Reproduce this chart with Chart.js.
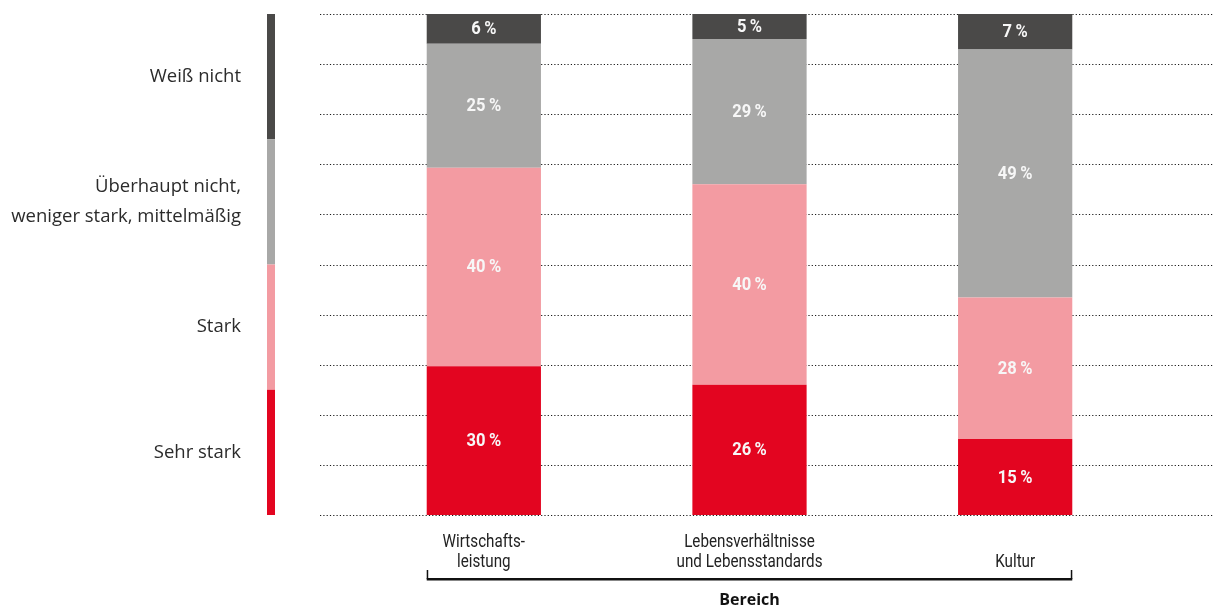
<!DOCTYPE html>
<html lang="de">
<head>
<meta charset="utf-8">
<script src="https://cdn.jsdelivr.net/npm/chart.js@4"></script>
<style>
    html, body { margin: 0; padding: 0; background: #fff; }
    #wrap { width: 1216px; height: 610px; }
</style>
</head>
<body>
<div id="wrap"><canvas id="chart" width="1216" height="610"></canvas></div>
<script>
// categories (multi-line labels) and series, bottom to top
const categories = [['Wirtschafts-', 'leistung'], ['Lebensverhältnisse', 'und Lebensstandards'], ['Kultur']]
const seriesNames = ['Sehr stark', 'Stark', ['Überhaupt nicht,', 'weniger stark, mittelmäßig'], 'Weiß nicht']
const sehrStark = [30, 26, 15]
const stark = [40, 40, 28]
const mittel = [25, 29, 49]
const weissNicht = [6, 5, 7]
const axisTitle = 'Bereich'

const series = [sehrStark, stark, mittel, weissNicht]
const colors = ['#e30520', '#f39ba2', '#a8a8a7', '#4a4948']

// 100 % stacked: every bar is scaled to its own total
const totals = categories.map((c, j) => series.reduce((s, arr) => s + arr[j], 0))

// no condensed face installed, so Roboto is squeezed horizontally
const narrow = (ctx, text, x, y, sx) => {
    ctx.save()
    ctx.translate(x, y)
    ctx.scale(sx, 1)
    ctx.fillText(text, 0, 0)
    ctx.restore()
}

const overlay = {
    id: 'overlay',
    beforeDatasetsDraw(chart) {
        const { ctx } = chart
        const y = chart.scales.y
        ctx.save()
        ctx.strokeStyle = '#1a1a1a'
        ctx.lineWidth = 1
        ctx.setLineDash([1.2, 2.1])
        for (let v = 0; v <= 100; v += 10) {
            const py = Math.round(y.getPixelForValue(v)) + 0.5
            ctx.beginPath()
            ctx.moveTo(320, py)
            ctx.lineTo(1214, py)
            ctx.stroke()
        }
        ctx.restore()
    },
    afterDatasetsDraw(chart) {
        const { ctx } = chart
        ctx.save()
        ctx.fillStyle = '#f7f7f7'
        ctx.font = 'bold 18px Roboto, sans-serif'
        ctx.textAlign = 'center'
        ctx.textBaseline = 'middle'
        series.forEach((arr, i) => {
            chart.getDatasetMeta(i).data.forEach((bar, j) => {
                narrow(ctx, arr[j] + '\u2009%', bar.x, (bar.y + bar.base) / 2 + 1, 0.92)
            })
        })
        ctx.restore()
    },
    afterDraw(chart) {
        const { ctx } = chart
        const y = chart.scales.y
        const x = chart.scales.x
        ctx.save()

        // legend: coloured strip with labels, top entry = top of stack
        const n = series.length
        const h = (y.bottom - y.top) / n
        ctx.font = "18.5px 'Open Sans', sans-serif"
        ctx.textAlign = 'right'
        ctx.textBaseline = 'middle'
        for (let k = 0; k < n; k++) {
            const i = n - 1 - k
            const top = y.top + k * h
            ctx.fillStyle = colors[i]
            ctx.fillRect(267, top, 8, h)
            ctx.fillStyle = '#2b2b2b'
            const lines = [].concat(seriesNames[i])
            const mid = top + h / 2
            lines.forEach((t, l) => {
                ctx.fillText(t, 241, mid + (l - (lines.length - 1) / 2) * 30)
            })
        }

        // category labels, bottom aligned
        ctx.font = '19px Roboto, sans-serif'
        ctx.fillStyle = '#222'
        ctx.textAlign = 'center'
        ctx.textBaseline = 'alphabetic'
        categories.forEach((lines, j) => {
            const px = x.getPixelForValue(j)
            lines.forEach((t, l) => {
                narrow(ctx, t, px, 567 - (lines.length - 1 - l) * 20.5, 0.8)
            })
        })

        // bracket under the categories
        const meta = chart.getDatasetMeta(0).data
        const first = meta[0], last = meta[meta.length - 1]
        const x0 = first.x - first.width / 2
        const x1 = last.x + last.width / 2
        ctx.fillStyle = '#111'
        ctx.fillRect(x0, 578, x1 - x0, 2.5)
        ctx.fillRect(x0, 570, 1.5, 9)
        ctx.fillRect(x1 - 1.5, 570, 1.5, 9)

        // axis title
        ctx.font = "bold 16px 'Open Sans', sans-serif"
        ctx.fillText(axisTitle, (x0 + x1) / 2, 605)
        ctx.restore()
    }
}

new Chart(document.getElementById('chart'), {
    type: 'bar',
    data: {
        labels: categories,
        datasets: series.map((arr, i) => ({
            label: [].concat(seriesNames[i]).join(' '),
            data: arr.map((v, j) => v / totals[j] * 100),
            backgroundColor: colors[i],
            borderWidth: 0,
            barPercentage: 0.86,
            categoryPercentage: 0.5,
        }))
    },
    options: {
        responsive: false,
        animation: false,
        layout: {
            padding: { left: 351, right: 68, top: 14, bottom: 95 }
        },
        scales: {
            x: { stacked: true, display: false },
            y: { stacked: true, display: false, min: 0, max: 100 }
        },
        plugins: {
            legend: { display: false },
            tooltip: { enabled: false }
        }
    },
    plugins: [overlay]
})
</script>
</body>
</html>
